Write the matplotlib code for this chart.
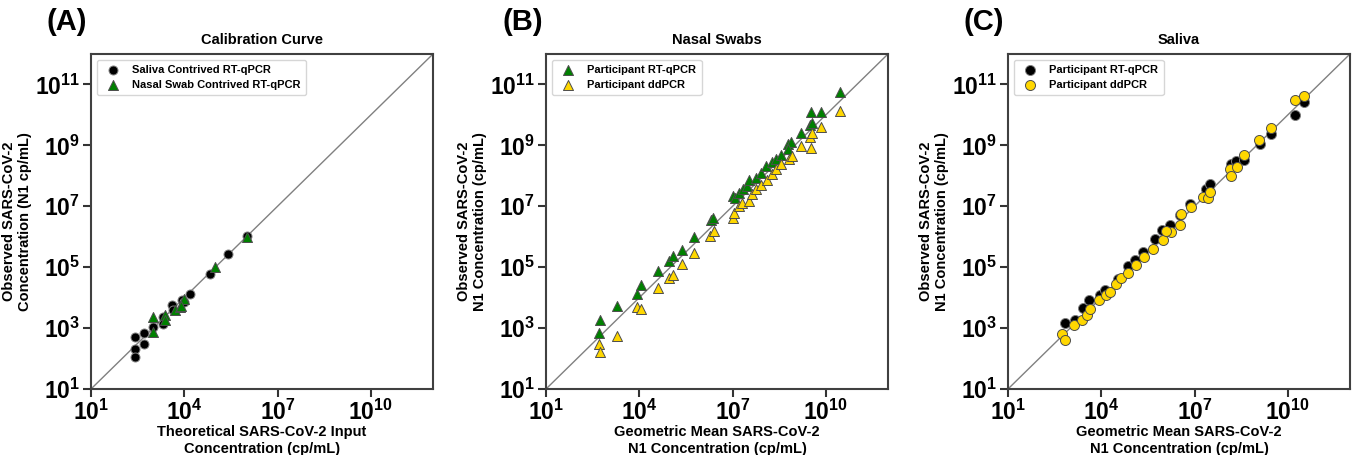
import matplotlib
matplotlib.use("Agg")
import matplotlib.pyplot as plt
import numpy as np

plt.rcParams['font.family'] = ['Liberation Sans', 'DejaVu Sans']
plt.rcParams['font.weight'] = 'bold'
plt.rcParams['mathtext.fontset'] = 'custom'
plt.rcParams['mathtext.rm'] = 'Liberation Sans'
plt.rcParams['mathtext.bf'] = 'Liberation Sans:bold'
plt.rcParams['mathtext.it'] = 'Liberation Sans'

# log10 values
# (A) calibration curve
a_sal_x = [2.40, 2.40, 2.40, 2.69, 2.69, 2.99, 3.30, 3.30, 3.60, 3.65, 3.93, 3.98, 4.19, 4.82, 5.42, 6.02]
a_sal_y = [2.70, 2.32, 2.04, 2.85, 2.48, 3.03, 3.36, 3.12, 3.75, 3.60, 3.91, 3.85, 4.13, 4.77, 5.43, 6.03]
a_nas_x = [2.99, 2.99, 3.39, 3.39, 3.71, 3.87, 3.98, 3.90, 5.00, 6.02]
a_nas_y = [3.36, 2.87, 3.42, 3.25, 3.58, 3.69, 3.97, 3.72, 5.01, 5.98]

# (B) nasal swabs
b_rt_x = [2.74, 2.69, 3.27, 3.94, 4.05, 4.61, 4.95, 5.07, 5.37, 5.76, 6.31, 6.38, 7.00, 7.08, 7.22,
          7.34, 7.47, 7.54, 7.75, 7.90, 8.09, 8.26, 8.40, 8.55, 8.79, 8.87, 8.79, 9.20, 9.49, 9.54,
          9.51, 9.86, 10.45]
b_rt_y = [3.26, 2.84, 3.74, 4.13, 4.42, 4.87, 5.20, 5.36, 5.58, 6.00, 6.55, 6.63, 7.34, 7.28, 7.42,
          7.56, 7.67, 7.85, 7.94, 8.08, 8.32, 8.45, 8.54, 8.67, 9.04, 9.11, 8.87, 9.39, 9.66, 9.73,
          10.10, 10.10, 10.74]
b_dd_x = [2.69, 2.74, 3.27, 3.92, 4.05, 4.61, 4.95, 5.09, 5.37, 5.76, 6.29, 6.40, 7.00, 7.05, 7.22,
          7.30, 7.52, 7.62, 7.75, 7.90, 8.11, 8.26, 8.41, 8.57, 8.82, 8.90, 9.20, 9.51, 9.49, 9.54,
          9.86, 10.45]
b_dd_y = [2.49, 2.20, 2.73, 3.68, 3.63, 4.32, 4.65, 4.73, 5.09, 5.47, 6.02, 6.18, 6.63, 6.79, 7.01,
          7.12, 7.17, 7.39, 7.56, 7.69, 7.86, 8.05, 8.24, 8.40, 8.54, 8.65, 8.98, 8.90, 9.29, 9.40,
          9.59, 10.13]

# (C) saliva
c_rt_x = [2.82, 3.14, 3.41, 3.60, 3.95, 4.11, 4.54, 4.86, 5.10, 5.34, 5.74, 5.95, 6.20, 6.52, 6.84,
          7.38, 7.51, 8.18, 8.34, 8.58, 9.09, 9.47, 10.22, 10.51]
c_rt_y = [3.17, 3.28, 3.66, 3.91, 4.08, 4.24, 4.62, 5.03, 5.22, 5.50, 5.91, 6.21, 6.39, 6.72, 7.06,
          7.57, 7.74, 8.39, 8.50, 8.53, 9.05, 9.38, 10.00, 10.44]
c_dd_x = [2.75, 2.82, 3.12, 3.39, 3.54, 3.63, 3.93, 4.16, 4.27, 4.46, 4.65, 4.86, 5.13, 5.36, 5.66,
          5.98, 6.23, 6.52, 6.09, 6.58, 6.87, 7.27, 7.43, 7.49, 8.13, 8.18, 8.36, 8.58, 9.07, 9.45,
          10.22, 10.51]
c_dd_y = [2.82, 2.60, 3.09, 3.26, 3.42, 3.62, 3.91, 4.10, 4.19, 4.46, 4.65, 4.81, 5.06, 5.33, 5.61,
          5.88, 6.17, 6.39, 6.19, 6.75, 6.99, 7.30, 7.27, 7.47, 8.23, 8.01, 8.28, 8.67, 9.16, 9.56,
          10.50, 10.63]

xticks = [1, 4, 7, 10]
yticks = [1, 3, 5, 7, 9, 11]

fig = plt.figure(figsize=(13.54, 4.55), dpi=100)
W, H = 1354, 455
lefts = [91, 546, 1008]
axw, top, bot = 342, 54, 389

panels = [
    dict(tag='(A)', title='Calibration Curve',
         xlabel='Theoretical SARS-CoV-2 Input\nConcentration (cp/mL)',
         ylabel='Observed SARS-CoV-2\nConcentration (N1 cp/mL)',
         series=[(a_sal_x, a_sal_y, 'o', 'black', 'grey', 'Saliva Contrived RT-qPCR', 42),
                 (a_nas_x, a_nas_y, '^', 'green', '0.3', 'Nasal Swab Contrived RT-qPCR', 52)]),
    dict(tag='(B)', title='Nasal Swabs',
         xlabel='Geometric Mean SARS-CoV-2\nN1 Concentration (cp/mL)',
         ylabel='Observed SARS-CoV-2\nN1 Concentration (cp/mL)',
         series=[(b_rt_x, b_rt_y, '^', 'green', '0.3', 'Participant RT-qPCR', 52),
                 (b_dd_x, b_dd_y, '^', 'gold', '0.3', 'Participant ddPCR', 52)]),
    dict(tag='(C)', title='Saliva',
         xlabel='Geometric Mean SARS-CoV-2\nN1 Concentration (cp/mL)',
         ylabel='Observed SARS-CoV-2\nN1 Concentration (cp/mL)',
         series=[(c_rt_x, c_rt_y, 'o', 'black', 'grey', 'Participant RT-qPCR', 52),
                 (c_dd_x, c_dd_y, 'o', 'gold', '0.3', 'Participant ddPCR', 52)]),
]

for left, p in zip(lefts, panels):
    ax = fig.add_axes([left / W, (H - bot) / H, axw / W, (bot - top) / H])
    ax.plot([1e1, 1e12], [1e1, 1e12], color='grey', lw=1, zorder=1)
    for xs, ys, m, fc, ec, lab, s in p['series']:
        ax.scatter(10 ** np.array(xs), 10 ** np.array(ys), marker=m, s=s,
                   facecolor=fc, edgecolor=ec, linewidth=0.7, label=lab, zorder=3)
    ax.set_xscale('log')
    ax.set_yscale('log')
    ax.set_xlim(1e1, 1e12)
    ax.set_ylim(1e1, 1e12)
    ax.set_xticks([10.0 ** t for t in xticks])
    ax.set_xticklabels([r'$\mathbf{10}^{%d}$' % t for t in xticks])
    ax.set_yticks([10.0 ** t for t in yticks])
    ax.set_yticklabels([r'$\mathbf{10}^{%d}$' % t for t in yticks])
    ax.minorticks_off()
    ax.tick_params(labelsize=16.5, length=6, width=1.5, color='0.2', pad=2)
    for sp in ax.spines.values():
        sp.set_linewidth(1.5)
        sp.set_color('0.25')
    ax.set_title(p['title'], fontsize=10.5, fontweight='bold', pad=7)
    ax.set_xlabel(p['xlabel'], fontsize=10.5, fontweight='bold', labelpad=0)
    ax.set_ylabel(p['ylabel'], fontsize=10.5, fontweight='bold', labelpad=2)
    ax.legend(loc='upper left', prop={'weight': 'bold', 'size': 8},
              handletextpad=0.7, borderpad=0.5, labelspacing=0.4)
    fig.text((left - 44) / W, (H - 22) / H, p['tag'], fontsize=21, fontweight='bold',
             ha='left', va='center')

fig.savefig('out.png', dpi=100)
